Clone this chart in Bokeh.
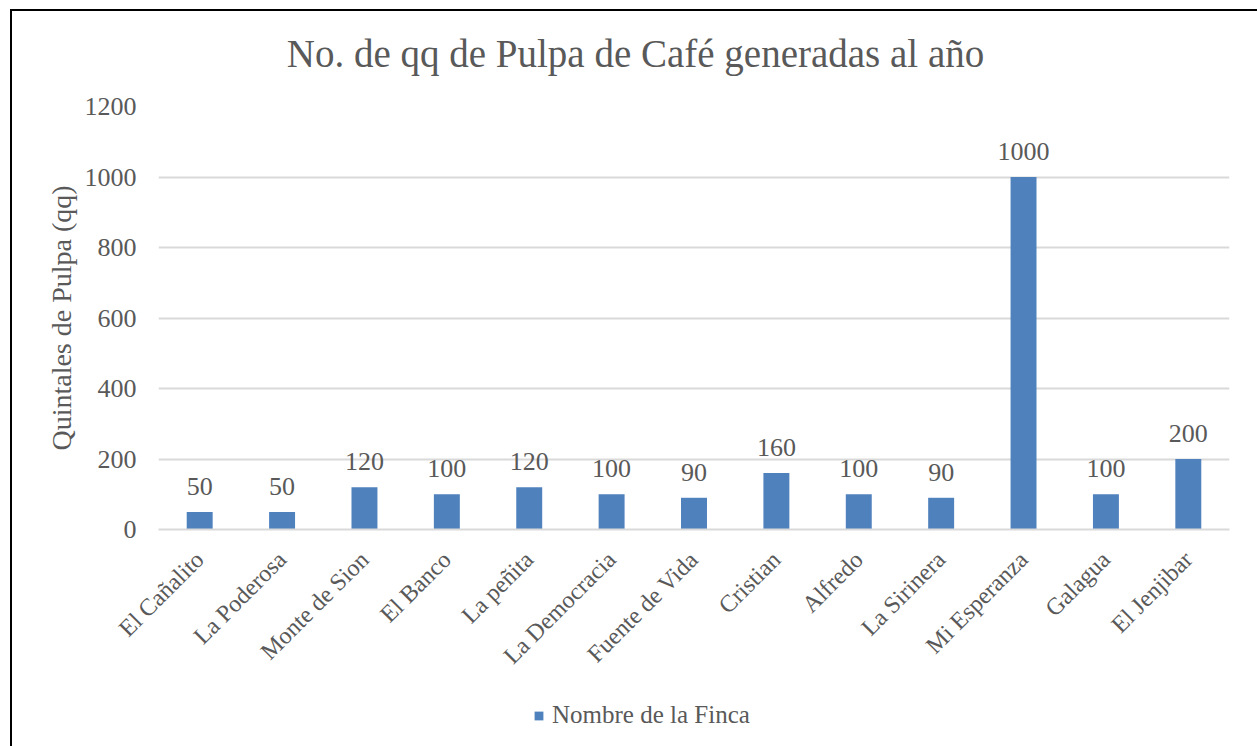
from bokeh.plotting import figure
from bokeh.layouts import column
from bokeh.models import (ColumnDataSource, Legend, LegendItem, FixedTicker,
                          LabelSet, Label, Range1d)
from bokeh.embed import file_html
from bokeh.resources import INLINE
from bokeh.core.properties import value
import math

# ---- data ----
fincas = ["El Cañalito", "La Poderosa", "Monte de Sion", "El Banco", "La peñita",
          "La Democracia", "Fuente de Vida", "Cristian", "Alfredo", "La Sirinera",
          "Mi Esperanza", "Galagua", "El Jenjibar"]
qq = [50, 50, 120, 100, 120, 100, 90, 160, 100, 90, 1000, 100, 200]
y_ticks = [0, 200, 400, 600, 800, 1000, 1200]
title_text = "No. de qq de Pulpa de Café generadas al año"
y_title = "Quintales de Pulpa (qq)"
series_name = "Nombre de la Finca"

FONT = "Liberation Serif"
GRAY = "#595959"
GRID = "#d9d9d9"
BAR = "#4f81bd"
W = 1245


def strip(height):
    f = figure(width=W, height=height, x_range=Range1d(0, 1), y_range=Range1d(0, 1),
               output_backend="svg", toolbar_location=None,
               x_axis_location=None, y_axis_location=None,
               min_border_left=0, min_border_right=0, min_border_top=0,
               min_border_bottom=0)
    f.outline_line_color = None
    f.xgrid.grid_line_color = None
    f.ygrid.grid_line_color = None
    f.border_fill_color = "white"
    return f


# ---- title strip ----
p0 = strip(75)
p0.add_layout(Label(x=477, y=33, x_units="screen", y_units="screen", text=title_text,
                    text_align="center", text_baseline="middle",
                    text_font=FONT, text_font_size="39px", text_color=GRAY))

# ---- main chart ----
src = ColumnDataSource(dict(finca=fincas, qq=qq, lbl=[str(v) for v in qq]))

p = figure(width=W, height=603, x_range=fincas, y_range=Range1d(0, 1200),
           output_backend="svg", toolbar_location=None,
           min_border_left=146, min_border_right=28, min_border_top=20,
           min_border_bottom=160)
p.outline_line_color = None
p.background_fill_color = "white"
p.border_fill_color = "white"

bars = p.vbar(x="finca", top="qq", width=0.315, source=src, fill_color=BAR,
              line_color=None)

labels = LabelSet(x="finca", y="qq", text="lbl", source=src, y_offset=17,
                  text_align="center", text_baseline="alphabetic",
                  text_font=value(FONT), text_font_size="26px", text_color=GRAY)
p.add_layout(labels)

# y axis
p.yaxis.ticker = FixedTicker(ticks=y_ticks)
p.yaxis.axis_line_color = None
p.yaxis.major_tick_line_color = None
p.yaxis.minor_tick_line_color = None
p.yaxis.major_label_standoff = 16
p.yaxis.major_label_text_font = FONT
p.yaxis.major_label_text_font_size = "26px"
p.yaxis.major_label_text_color = GRAY
p.yaxis.axis_label = y_title
p.yaxis.axis_label_text_font = FONT
p.yaxis.axis_label_text_font_size = "28px"
p.yaxis.axis_label_text_font_style = "normal"
p.yaxis.axis_label_text_color = GRAY
p.yaxis.axis_label_standoff = 5

# x axis
p.xaxis.axis_line_color = GRID
p.xaxis.axis_line_width = 2
p.xaxis.major_tick_line_color = None
p.xaxis.minor_tick_line_color = None
p.xaxis.major_label_orientation = math.pi / 4
p.xaxis.major_label_standoff = 20
p.xaxis.major_label_text_font = FONT
p.xaxis.major_label_text_font_size = "24px"
p.xaxis.major_label_text_color = GRAY

p.xgrid.grid_line_color = None
p.ygrid.grid_line_color = GRID
p.ygrid.grid_line_width = 2

# ---- legend strip ----
p2 = strip(57)
# zero-height proxy bar, used only as the legend key
key = p2.vbar(x=[0.5], top=[0], bottom=[0], width=0, fill_color=BAR, line_color=None)
legend = Legend(items=[LegendItem(label=series_name, renderers=[key])],
                location=(375, 17), orientation="horizontal",
                glyph_width=11, glyph_height=11, label_standoff=8,
                padding=0, margin=0, border_line_color=None,
                background_fill_alpha=0,
                label_text_font=FONT, label_text_font_size="25px",
                label_text_color=GRAY)
p2.add_layout(legend, "center")

layout = column(p0, p, p2, spacing=0)
layout.styles = {"border-top": "2px solid black", "border-left": "2px solid black",
                 "margin-left": "10px", "margin-top": "9px"}

open("out.html", "w").write(file_html(layout, INLINE))
